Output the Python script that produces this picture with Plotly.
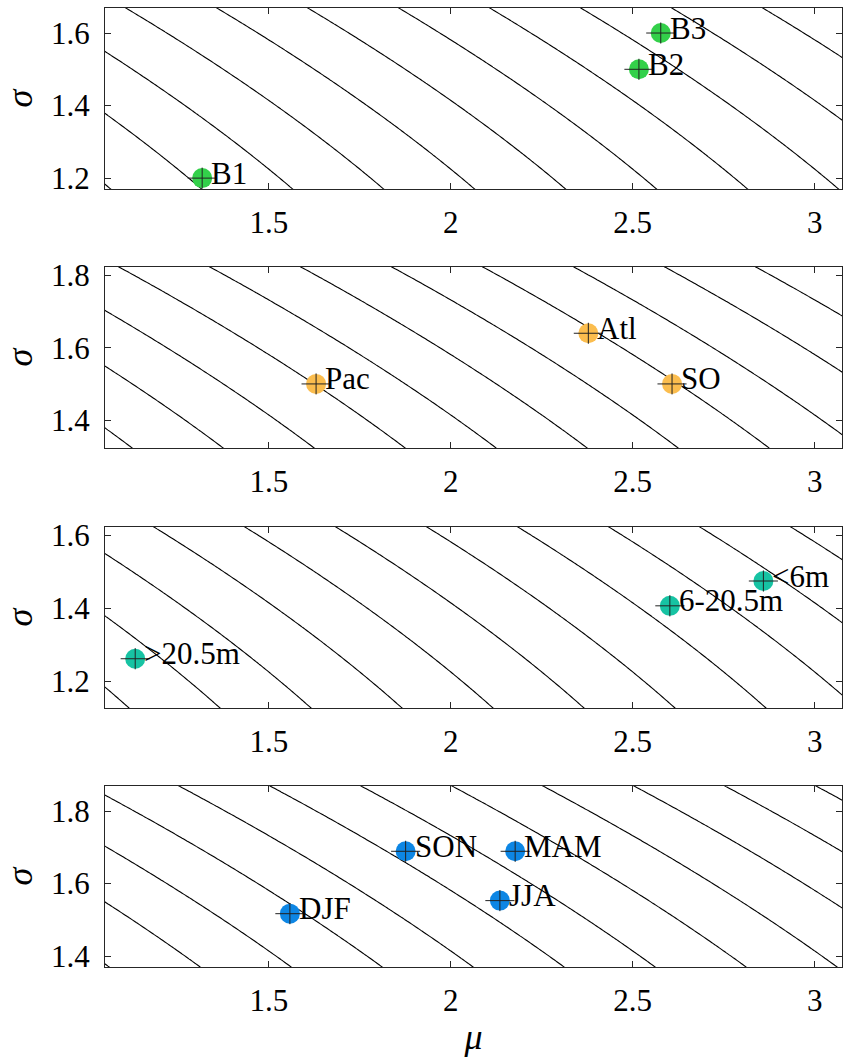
import numpy as np
import plotly.graph_objects as go

# ---------------- data ----------------
p1_labels = ["B1", "B2", "B3"]
p1_mu = [1.317, 2.517, 2.577]
p1_sigma = [1.20, 1.50, 1.60]

p2_labels = ["Pac", "Atl", "SO"]
p2_mu = [1.630, 2.378, 2.608]
p2_sigma = [1.50, 1.64, 1.50]

p3_labels = [">20.5m", "6-20.5m", "<6m"]
p3_mu = [1.133, 2.602, 2.859]
p3_sigma = [1.261, 1.406, 1.474]

p4_labels = ["DJF", "SON", "MAM", "JJA"]
p4_mu = [1.558, 1.876, 2.177, 2.135]
p4_sigma = [1.517, 1.689, 1.689, 1.553]

mu_err = 0.04
sigma_err = 0.029

x_ticks = [1.5, 2, 2.5, 3]
x_range = [1.05, 3.075]
y_ranges = [[1.17, 1.669], [1.323, 1.823], [1.126, 1.622], [1.37, 1.869]]
y_ticks = [[1.2, 1.4, 1.6], [1.4, 1.6, 1.8], [1.2, 1.4, 1.6], [1.4, 1.6, 1.8]]

contour_step = 0.25

colors = ["#33d04a", "#fbbd4e", "#17c3a3", "#0d86e4"]

panels = [
    (p1_labels, p1_mu, p1_sigma),
    (p2_labels, p2_mu, p2_sigma),
    (p3_labels, p3_mu, p3_sigma),
    (p4_labels, p4_mu, p4_sigma),
]

# plot-area pixel layout
W, H = 843, 1063
ML, MR, MT, MB = 105, 1, 8, 96
panel_px = [(8, 189), (267, 448), (527, 708), (786, 967)]
plot_h = H - MT - MB

FONT = "Liberation Serif"

fig = go.Figure()
layout_axes = {}
annotations = []

for i, (labels, mu, sig) in enumerate(panels):
    n = i + 1
    xa = "x" if n == 1 else f"x{n}"
    ya = "y" if n == 1 else f"y{n}"

    # contour background: lognormal mean levels mu + sigma^2/2
    gx = np.linspace(x_range[0] - 0.05, x_range[1] + 0.05, 220)
    gy = np.linspace(y_ranges[i][0] - 0.05, y_ranges[i][1] + 0.05, 120)
    GX, GY = np.meshgrid(gx, gy)
    Z = GX + GY ** 2 / 2
    fig.add_trace(go.Contour(
        x=gx, y=gy, z=Z, xaxis=xa, yaxis=ya,
        contours=dict(start=contour_step, end=10, size=contour_step, coloring="lines"),
        colorscale=[[0, "black"], [1, "black"]],
        line=dict(width=1.1, smoothing=0),
        showscale=False, hoverinfo="skip", showlegend=False,
    ))
    # markers
    fig.add_trace(go.Scatter(
        x=mu, y=sig, xaxis=xa, yaxis=ya, mode="markers",
        marker=dict(size=20, color=colors[i], line=dict(width=0)),
        showlegend=False,
    ))
    # error bars on top of markers
    fig.add_trace(go.Scatter(
        x=mu, y=sig, xaxis=xa, yaxis=ya, mode="markers",
        marker=dict(size=1, opacity=0),
        error_x=dict(type="constant", value=mu_err, color="#222222", thickness=1, width=0),
        error_y=dict(type="constant", value=sigma_err, color="#222222", thickness=1, width=0),
        showlegend=False, hoverinfo="skip",
    ))
    for lab, m, s in zip(labels, mu, sig):
        annotations.append(dict(
            x=m, y=s, xref=xa, yref=ya, text=lab.replace("<", "&lt;").replace(">", "&gt;"),
            showarrow=False, xanchor="left", yanchor="middle", xshift=7, yshift=5,
            font=dict(family=FONT, size=31, color="black"),
        ))

    top, bot = panel_px[i]
    dom = [(H - MB - bot) / plot_h, (H - MB - top) / plot_h]
    axis_common = dict(
        showline=True, linecolor="#262626", linewidth=1.3, mirror="ticks",
        ticks="inside", ticklen=6, tickwidth=1.2, tickcolor="#262626",
        showgrid=False, zeroline=False, automargin=False,
        tickfont=dict(family=FONT, size=31, color="black"),
    )
    xkey = "xaxis" if n == 1 else f"xaxis{n}"
    ykey = "yaxis" if n == 1 else f"yaxis{n}"
    layout_axes[xkey] = dict(
        axis_common, domain=[0, 1], anchor=ya, range=x_range,
        tickvals=x_ticks, ticktext=[f"{t:g}" for t in x_ticks],
        ticklabelstandoff=6,
    )
    layout_axes[ykey] = dict(
        axis_common, domain=dom, anchor=xa, range=y_ranges[i],
        tickvals=y_ticks[i], ticktext=[f"{t:.1f}" for t in y_ticks[i]],
        ticklabelstandoff=8,
        title=dict(text="<i>σ</i>", font=dict(family=FONT, size=36, color="black"), standoff=10),
    )

layout_axes["xaxis4"]["title"] = dict(text="<i>μ</i>", font=dict(family=FONT, size=36, color="black"), standoff=6)

fig.update_layout(
    width=W, height=H,
    margin=dict(l=ML, r=MR, t=MT, b=MB),
    paper_bgcolor="white", plot_bgcolor="white",
    annotations=annotations,
    **layout_axes,
)

fig.write_html(
    "out.html",
    config={"displayModeBar": False},
    post_script="document.body.style.margin='0px';document.body.style.overflow='hidden';",
)
